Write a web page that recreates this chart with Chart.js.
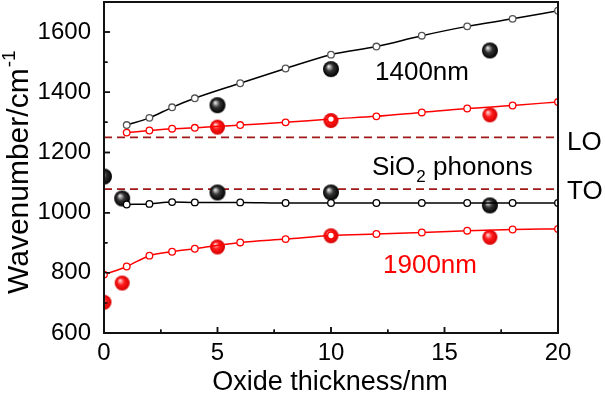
<!DOCTYPE html>
<html>
<head>
<meta charset="utf-8">
<script src="https://cdn.jsdelivr.net/npm/chart.js@4.4.1/dist/chart.umd.min.js"></script>
<style>
  html, body { margin: 0; padding: 0; background: #fff; }
  #wrap { position: relative; width: 605px; height: 394px; }
  #chart { position: absolute; left: 0; top: 0; }
  #ytitle {
    position: absolute; left: 3px; top: 294px; transform-origin: 0 0; transform: rotate(-90deg);
    white-space: nowrap; font: 30px "Liberation Sans", Arial, sans-serif; line-height: 1; color: #000;
  }
  #ytitle span { font-size: 19px; position: relative; top: -13px; margin-left: 1px; }
</style>
</head>
<body>
<div id="wrap">
  <canvas id="chart" width="605" height="394"></canvas>
  <div id="ytitle">Wavenumber/cm<span>-1</span></div>
</div>
<script>
// axis ticks
const xTicks = [0, 5, 10, 15, 20];
const xMinor = [2.5, 7.5, 12.5, 17.5];
const yTicks = [600, 800, 1000, 1200, 1400, 1600];
const yMinor = [700, 900, 1100, 1300, 1500];

// calculated curves (open circles)
const calcX = [1, 2, 3, 4, 6, 8, 10, 12, 14, 16, 18, 20];
const calc1400Upper = [1291, 1315, 1350, 1380, 1430, 1479, 1525, 1552, 1588, 1619, 1644, 1671];
const calc1900Upper = [1266, 1273, 1279, 1282, 1291, 1300, 1311, 1320, 1333, 1346, 1356, 1368];
const calc1400Lower = [1027, 1029, 1035, 1034, 1034, 1032, 1032, 1032, 1032, 1032, 1032, 1032];
const calcLowX = [0, 1, 2, 3, 4, 6, 8, 10, 12, 14, 16, 18, 20];
const calc1900Lower = [794, 821, 857, 870, 880, 901, 912, 924, 929, 934, 940, 944, 946];

// measured points (spheres)
const expUpX = [5, 10, 17];
const exp1400Upper = [1357, 1477, 1539];
const exp1900Upper = [1284, 1306, 1325];
const expLowX = [0, 0.8, 5, 10, 17];
const exp1400Lower = [1120, 1047, 1067, 1067, 1024];
const exp1900Lower = [702, 766, 886, 923, 918];

// SiO2 phonon lines
const phononX = [0, 20];
const loValue = 1250;
const toValue = 1078;

const FONT = '"Liberation Sans", Arial, sans-serif';
const pts = (xs, ys) => xs.map((x, i) => ({ x: x, y: ys[i] }));

function sphere(r, c0, c1, c2) {
  const cv = document.createElement('canvas');
  cv.width = cv.height = 2 * r + 2;
  const g = cv.getContext('2d');
  const c = r + 1;
  const grd = g.createRadialGradient(c - r * 0.3, c - r * 0.35, r * 0.05, c, c, r);
  grd.addColorStop(0, c0);
  grd.addColorStop(0.45, c1);
  grd.addColorStop(1, c2);
  g.fillStyle = grd;
  g.beginPath(); g.arc(c, c, r, 0, Math.PI * 2); g.fill();
  return cv;
}
const blackBall = sphere(8, '#e8e8e8', '#333', '#000');
const redBall = sphere(7.5, '#ffd6d6', '#ff1a1a', '#d40000');

function calcLine(data, color, border) {
  return {
    data: data, borderColor: color, borderWidth: 1.5, tension: 0.4, clip: 0,
    cubicInterpolationMode: 'monotone',
    pointRadius: 3.3, pointBorderWidth: 1.3, pointBackgroundColor: '#fff',
    pointBorderColor: border, showLine: true
  };
}
function ballSet(data, img) {
  return { data: data, showLine: false, pointStyle: img, pointRadius: 8, clip: 0, borderColor: 'transparent', backgroundColor: 'transparent' };
}
function dashLine(v) {
  return {
    data: phononX.map(x => ({ x: x, y: v })), borderColor: '#a01818', borderWidth: 1.6,
    borderDash: [8, 5], pointRadius: 0, showLine: true
  };
}

// pull the plot top up to y=2 (Chart.js reserves room for the top label)
const plotTop = {
  id: 'plotTop',
  afterLayout(chart) {
    const ys = chart.scales.y;
    ys.top = 2;
    ys.height = ys.bottom - ys.top;
    ys.configure();
    chart.chartArea.top = 2;
    chart.chartArea.height = chart.chartArea.bottom - 2;
  }
};

function drawFrame(chart) {
  const ctx = chart.ctx;
  const xs = chart.scales.x, ys = chart.scales.y;
  const L = Math.round(xs.getPixelForValue(0)), R = Math.round(xs.getPixelForValue(20));
  const T = Math.round(ys.getPixelForValue(1700)), B = Math.round(ys.getPixelForValue(600));
  ctx.save();
  ctx.strokeStyle = '#111';
  ctx.lineWidth = 2;
  ctx.strokeRect(L, T, R - L, B - T);
  ctx.lineWidth = 1.5;
  ctx.beginPath();
  xTicks.forEach(v => { const p = xs.getPixelForValue(v); ctx.moveTo(p, B); ctx.lineTo(p, B - 6); });
  xMinor.forEach(v => { const p = xs.getPixelForValue(v); ctx.moveTo(p, B); ctx.lineTo(p, B - 3.5); });
  yTicks.forEach(v => { const p = ys.getPixelForValue(v); ctx.moveTo(L, p); ctx.lineTo(L + 6, p); });
  yMinor.forEach(v => { const p = ys.getPixelForValue(v); ctx.moveTo(L, p); ctx.lineTo(L + 3.5, p); });
  ctx.stroke();
  ctx.restore();
}

const frame = {
  id: 'frame',
  beforeDatasetsDraw(chart) { drawFrame(chart); },
  afterDatasetsDraw(chart) { drawFrame(chart); }
};

const labels = {
  id: 'labels',
  afterDraw(chart) {
    const ctx = chart.ctx;
    ctx.save();
    ctx.textBaseline = 'alphabetic';
    ctx.textAlign = 'left';
    ctx.fillStyle = '#000';
    ctx.font = '26px ' + FONT;
    ctx.fillText('1400nm', 375, 80);
    ctx.fillText('LO', 567, 150);
    ctx.fillText('TO', 567, 199);
    ctx.fillText('SiO', 372, 175);
    let w = ctx.measureText('SiO').width;
    ctx.font = '17px ' + FONT;
    ctx.fillText('2', 372 + w + 1, 182);
    w += ctx.measureText('2').width + 1;
    ctx.font = '26px ' + FONT;
    ctx.fillText(' phonons', 372 + w, 175);
    ctx.fillStyle = '#ff0000';
    ctx.fillText('1900nm', 383, 273);
    ctx.fillStyle = '#000';
    ctx.font = '27px ' + FONT;
    ctx.textAlign = 'center';
    ctx.fillText('Oxide thickness/nm', 330, 390);
    ctx.restore();
  }
};

new Chart(document.getElementById('chart'), {
  type: 'line',
  data: {
    datasets: [
      calcLine(pts(calcX, calc1400Upper), '#000', '#555'),
      calcLine(pts(calcX, calc1900Upper), '#ff0000', '#ff0000'),
      calcLine(pts(calcX, calc1400Lower), '#000', '#000'),
      calcLine(pts(calcLowX, calc1900Lower), '#ff0000', '#ff0000'),
      ballSet(pts(expUpX, exp1400Upper), blackBall),
      ballSet(pts(expUpX, exp1900Upper), redBall),
      ballSet(pts(expLowX, exp1400Lower), blackBall),
      ballSet(pts(expLowX, exp1900Lower), redBall),
      dashLine(loValue),
      dashLine(toValue)
    ]
  },
  options: {
    responsive: false,
    animation: false,
    devicePixelRatio: 1,
    layout: { padding: { left: 0, right: 47, top: 2, bottom: 0 } },
    plugins: { legend: { display: false }, tooltip: { enabled: false } },
    scales: {
      x: {
        type: 'linear', min: 0, max: 20,
        grid: { display: false, drawTicks: false },
        border: { display: true, color: '#111', width: 2 },
        afterBuildTicks: s => { s.ticks = xTicks.map(v => ({ value: v })); },
        afterFit: s => { s.height = 61; },
        ticks: { padding: 6, color: '#000', maxRotation: 0, callback: v => String(v), font: { family: FONT, size: 24 } }
      },
      y: {
        type: 'linear', min: 600, max: 1700,
        grid: { display: false, drawTicks: false },
        border: { display: true, color: '#111', width: 2 },
        afterBuildTicks: s => { s.ticks = yTicks.map(v => ({ value: v })); },
        afterFit: s => { s.width = 104; },
        ticks: { padding: 13, color: '#000', callback: v => String(v), font: { family: FONT, size: 24 } }
      }
    }
  },
  plugins: [plotTop, frame, labels]
});
</script>
</body>
</html>
